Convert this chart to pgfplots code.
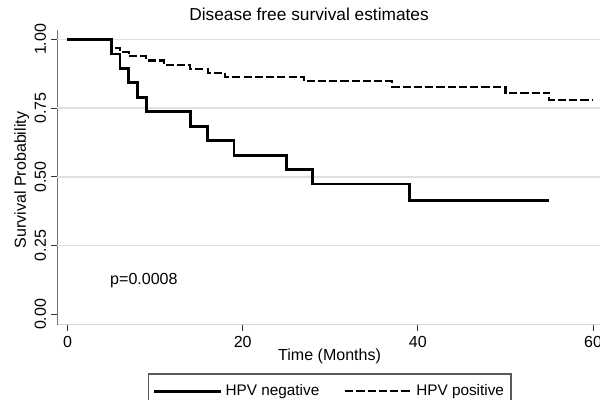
\documentclass[border=0pt]{standalone}
\usepackage{fontspec}
\setmainfont{Liberation Sans}
\usepackage{pgfplots}
\pgfplotsset{compat=1.18}
\begin{document}
\begin{tikzpicture}
\begin{axis}[
  name=ax,
  scale only axis,
  width=13.5675cm, height=7.3675cm,
  xmin=-1.16, xmax=60.8,
  ymin=-0.038, ymax=1.034,
  axis x line*=bottom, axis y line*=left,
  x axis line style={draw=black!15, line width=1pt},
  y axis line style={draw=black!55, line width=0.9pt},
  xtick={0,20,40,60},
  ytick={0,0.25,0.5,0.75,1},
  tick align=outside,
  major tick length=0.16cm,
  tick style={black!80, line width=0.7pt},
  extra y ticks={0.25,0.5,0.75,1},
  extra y tick labels={},
  extra y tick style={grid=major, major tick length=0pt},
  major grid style={draw=black!12, line width=1.2pt},
  /pgf/number format/assume math mode=true,
  yticklabel style={rotate=90, anchor=south, /pgf/number format/fixed, /pgf/number format/zerofill, /pgf/number format/precision=2},
  ticklabel style={font=\fontsize{11.4}{13}\selectfont},
  xlabel={Time (Months)},
  ylabel={Survival Probability},
  label style={font=\fontsize{11.4}{13}\selectfont},
  xlabel style={at={(axis description cs:0.5016,-0.1086)}, anchor=center},
  ylabel style={at={(axis description cs:-0.0656,0.491)}, anchor=center},
  title={Disease free survival estimates},
  title style={at={(axis description cs:0.4638,1.051)}, anchor=center, yshift=-0.2cm, font=\fontsize{12.3}{14}\selectfont},
  legend columns=2,
  legend style={at={(axis description cs:0.167,-0.165)}, anchor=north west,
    draw=black!65, line width=0.8pt, font=\fontsize{10.9}{13}\selectfont,
    inner ysep=5.5pt,
    /tikz/every even column/.append style={column sep=0.55cm}},
  legend image code/.code={\draw[#1] (0cm,0cm) -- (1.43cm,0cm); \path (0cm,0cm) -- (1.68cm,0cm);},
]
\addplot[const plot, black, line width=2pt] coordinates {
 (0,1) (5,0.947) (6,0.895) (7,0.842) (8,0.789) (9,0.737) (14,0.684)
 (16,0.632) (19,0.579) (25,0.526) (28,0.474) (39,0.414) (55,0.414)
};
\addlegendentry{HPV negative}
\addplot[const plot, black, line width=1.5pt, dash pattern=on 5.8pt off 2.2pt] coordinates {
 (0,1) (5,0.969) (6,0.954) (7,0.938) (9,0.923) (11,0.908) (14,0.892)
 (16,0.879) (18,0.863) (27,0.847) (37,0.828) (50,0.806) (55,0.779) (60,0.779)
};
\addlegendentry{HPV positive\hspace{0.15cm}}
\node[anchor=west, inner sep=0pt, font=\fontsize{11.4}{13}\selectfont] at (axis cs:4.85,0.122) {p=0.0008};
\end{axis}
\pgfresetboundingbox
\begin{scope}[shift={(ax.north west)}, x=0.025cm, y=-0.025cm]
\path (-57.3,-30) rectangle (542.7,370);
\end{scope}
\end{tikzpicture}
\end{document}
